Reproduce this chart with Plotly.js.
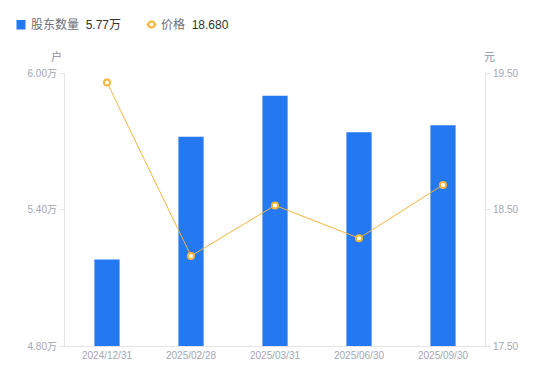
<!DOCTYPE html>
<html>
<head>
<meta charset="utf-8">
<script src="https://cdn.plot.ly/plotly-3.0.1.min.js"></script>
<style>html,body{margin:0;padding:0;background:#fff;}#chart{width:550px;height:381px;}</style>
</head>
<body>
<div id="chart"></div>
<script>
const categories = ["2024/12/31", "2025/02/28", "2025/03/31", "2025/06/30", "2025/09/30"];
const holders = [5.18, 5.72, 5.90, 5.74, 5.77];   // 股东数量 (万户)
const prices = [19.43, 18.16, 18.53, 18.29, 18.68]; // 价格 (元)
const leftTicks = [4.80, 5.40, 6.00];
const rightTicks = [17.50, 18.50, 19.50];

const FONT = "'Liberation Sans', 'Noto Sans CJK SC', sans-serif";
const tickColor = "#a3a6b4";
const axisColor = "#e3e3e8";
const barColor = "#2478f2";
const lineColor = "#f7b53b";

// pixel -> paper helpers for legend decoration (margins l=65, r=65, t=73, b=35)
const PL = 65, PW = 420, PB = 346, PH = 273;
const px = v => (v - PL) / PW;
const py = v => (PB - v) / PH;

const lastH = holders[holders.length - 1].toFixed(2) + "万";
const lastP = prices[prices.length - 1].toFixed(3);

const traces = [
  {
    type: "bar",
    x: categories,
    y: holders,
    name: "股东数量",
    marker: {color: barColor},
    width: 0.3,
    yaxis: "y",
    hoverinfo: "skip"
  },
  {
    type: "scatter",
    mode: "lines+markers",
    x: categories,
    y: prices,
    name: "价格",
    yaxis: "y2",
    line: {color: lineColor, width: 1},
    marker: {size: 6, color: "#ffffff", line: {color: lineColor, width: 2}},
    hoverinfo: "skip"
  }
];

const layout = {
  width: 550, height: 381,
  margin: {l: 65, r: 65, t: 73, b: 35},
  paper_bgcolor: "#fff", plot_bgcolor: "#fff",
  font: {family: FONT, size: 10, color: tickColor},
  showlegend: false,
  xaxis: {
    type: "category",
    showline: true, linecolor: axisColor, linewidth: 1,
    ticks: "", showgrid: false, zeroline: false,
    tickfont: {size: 10, color: tickColor}
  },
  yaxis: {
    range: [4.80, 6.00],
    tickvals: leftTicks,
    ticktext: leftTicks.map(v => v.toFixed(2) + "万"),
    showline: true, linecolor: axisColor, linewidth: 1,
    ticks: "outside", ticklen: 5, tickcolor: axisColor,
    showgrid: false, zeroline: false,
    tickfont: {size: 10, color: tickColor}
  },
  yaxis2: {
    overlaying: "y", side: "right",
    range: [17.50, 19.50],
    tickvals: rightTicks,
    ticktext: rightTicks.map(v => v.toFixed(2)),
    showline: true, linecolor: axisColor, linewidth: 1,
    ticks: "outside", ticklen: 5, tickcolor: axisColor,
    showgrid: false, zeroline: false,
    tickfont: {size: 10, color: tickColor}
  },
  shapes: [
    {type: "rect", xref: "paper", yref: "paper", x0: px(16.5), x1: px(25.5), y0: py(29.5), y1: py(20), fillcolor: barColor, line: {width: 0}},
    {type: "line", xref: "paper", yref: "paper", x0: px(146.5), x1: px(156.5), y0: py(24.5), y1: py(24.5), line: {color: lineColor, width: 2}},
    {type: "circle", xref: "paper", yref: "paper", x0: px(148.5), x1: px(154.5), y0: py(27.5), y1: py(21.5), fillcolor: "#fff", line: {color: lineColor, width: 2}}
  ],
  annotations: [
    {text: "股东数量  <span style='color:#333'>" + lastH + "</span>", xref: "paper", yref: "paper", x: px(29), y: py(24.5), xanchor: "left", yanchor: "middle", showarrow: false, font: {size: 12, color: "#6b6e7a"}},
    {text: "价格  <span style='color:#333'>" + lastP + "</span>", xref: "paper", yref: "paper", x: px(159), y: py(24.5), xanchor: "left", yanchor: "middle", showarrow: false, font: {size: 12, color: "#6b6e7a"}},
    {text: "户", xref: "paper", yref: "paper", x: -0.02, y: 1.06, xanchor: "center", yanchor: "middle", showarrow: false, font: {size: 11, color: "#8c8f9c"}},
    {text: "元", xref: "paper", yref: "paper", x: 1.01, y: 1.06, xanchor: "center", yanchor: "middle", showarrow: false, font: {size: 11, color: "#8c8f9c"}}
  ]
};

Plotly.newPlot("chart", traces, layout, {displayModeBar: false, staticPlot: true});
</script>
</body>
</html>
